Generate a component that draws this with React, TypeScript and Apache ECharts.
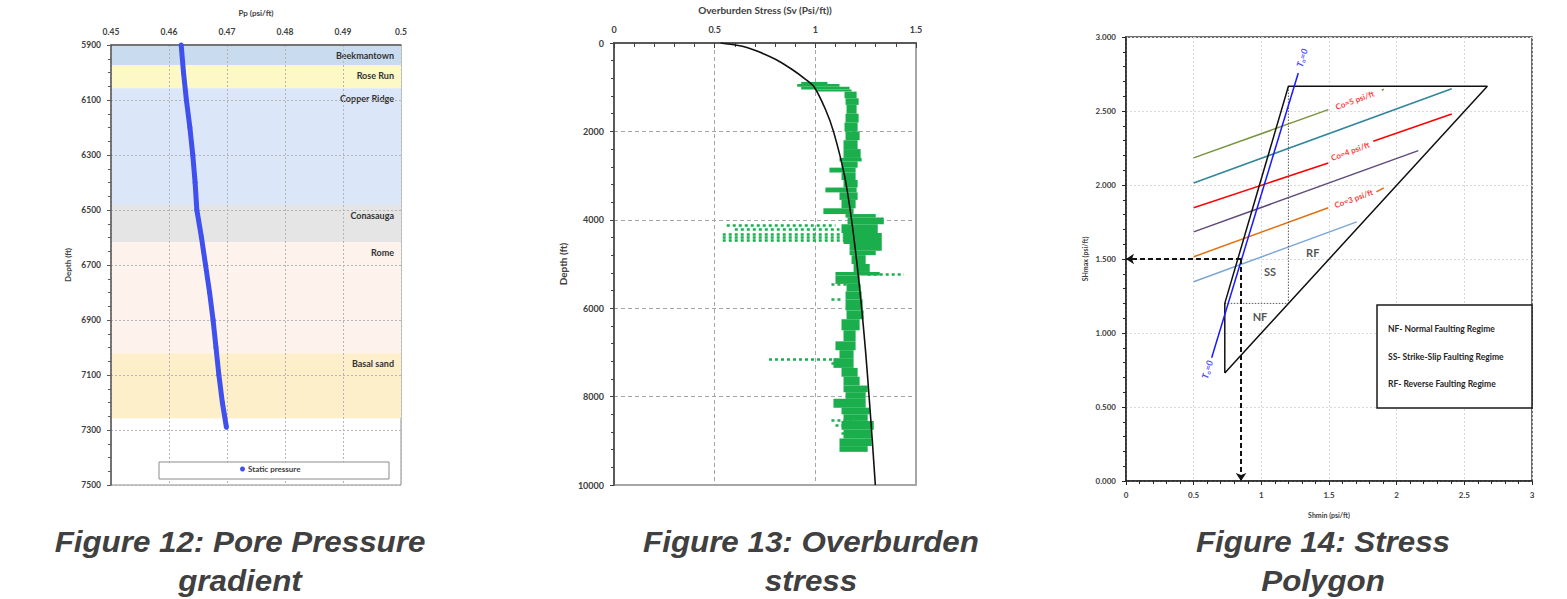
import React, { useEffect, useRef } from "react";
import * as echarts from "echarts";

// ---------- Figure 12: pore pressure gradient ----------
const ppDepth = [5900, 6000, 6100, 6200, 6300, 6400, 6500, 6600, 6700, 6800, 6900, 7000, 7100, 7200, 7290];
const ppGradient = [0.4621, 0.4625, 0.463, 0.4636, 0.4641, 0.4645, 0.4648, 0.4656, 0.4663, 0.467, 0.4676, 0.4681, 0.4686, 0.4692, 0.4699];
const formationNames = ["Beekmantown", "Rose Run", "Copper Ridge", "Conasauga", "Rome", "Basal sand"];
const formationTop = [5900, 5973, 6057, 6482, 6617, 7021];
const formationBase = [5973, 6057, 6482, 6617, 7021, 7257];
const formationColors = ["#c9dcef", "#fdf9c6", "#dbe6f8", "#e5e5e5", "#fdf2ec", "#fdefc9"];

// ---------- Figure 13: overburden stress ----------
const svDepth = [0, 50, 100, 200, 400, 600, 800, 1000, 1500, 2000, 3000, 4000, 5000, 6000, 7000, 8000, 9000, 10000];
const svGradient = [0.53, 0.61, 0.66, 0.72, 0.815, 0.885, 0.945, 0.995, 1.05, 1.09, 1.145, 1.18, 1.207, 1.23, 1.25, 1.267, 1.283, 1.298];
// [top depth, base depth, low Sv, high Sv]
const svLogBands = [
  [880, 930, 0.93, 1.06], [930, 990, 0.91, 1.12], [990, 1050, 0.93, 1.17], [1050, 1100, 1.0, 1.18],
  [1100, 1250, 1.145, 1.205], [1250, 1400, 1.15, 1.215], [1400, 1600, 1.155, 1.205],
  [1600, 1800, 1.15, 1.215], [1800, 2000, 1.145, 1.21], [2000, 2200, 1.15, 1.22],
  [2200, 2400, 1.14, 1.21], [2400, 2600, 1.14, 1.225], [2600, 2680, 1.12, 1.23],
  [2680, 2820, 1.13, 1.21], [2820, 2930, 1.07, 1.2], [2930, 3100, 1.13, 1.2],
  [3100, 3270, 1.14, 1.21], [3270, 3380, 1.05, 1.205], [3380, 3550, 1.12, 1.21],
  [3550, 3740, 1.13, 1.2], [3740, 3870, 1.04, 1.19], [3870, 3950, 1.15, 1.3],
  [3950, 4100, 1.16, 1.34], [4100, 4300, 1.13, 1.31], [4300, 4550, 1.14, 1.33],
  [4550, 4700, 1.17, 1.33], [4700, 4800, 1.17, 1.3], [4800, 5000, 1.18, 1.25],
  [5000, 5180, 1.19, 1.27], [5180, 5260, 1.1, 1.32], [5260, 5450, 1.1, 1.22],
  [5450, 5620, 1.155, 1.225], [5620, 5800, 1.15, 1.23], [5800, 6050, 1.15, 1.235],
  [6050, 6250, 1.155, 1.24], [6250, 6500, 1.13, 1.22], [6500, 6750, 1.14, 1.2],
  [6750, 6950, 1.1, 1.2], [6950, 7130, 1.12, 1.19], [7130, 7350, 1.09, 1.19],
  [7350, 7550, 1.13, 1.21], [7550, 7750, 1.14, 1.22], [7750, 7900, 1.14, 1.26],
  [7900, 8050, 1.15, 1.25], [8050, 8250, 1.09, 1.25], [8250, 8400, 1.13, 1.27],
  [8400, 8550, 1.14, 1.26], [8550, 8750, 1.13, 1.29], [8750, 8950, 1.14, 1.28],
  [8950, 9120, 1.12, 1.28], [9120, 9250, 1.12, 1.26],
];
// [depth, low Sv, high Sv] sparse scattered readings
const svLogScatter = [
  [4130, 0.56, 1.1], [4220, 0.6, 1.12], [4320, 0.54, 1.15], [4400, 0.54, 1.15],
  [4470, 0.54, 1.32], [5226, 1.26, 1.44], [5450, 1.08, 1.16], [5800, 1.08, 1.13],
  [7144, 0.77, 1.1], [7250, 1.08, 1.14], [8535, 1.08, 1.18], [8650, 1.1, 1.16], [8836, 1.13, 1.19],
];

// ---------- Figure 14: stress polygon ----------
const stressPolygon = [[0.73, 0.73], [0.73, 1.2], [1.2, 2.667], [2.67, 2.667], [0.73, 0.73]];
const regimeDivider = [[0.73, 1.2], [1.2, 1.2], [1.2, 2.667]];
const t0Line = [[0.633, 0.833], [1.273, 2.757]];
const coLineSegments = [
  [[[0.5, 2.183], [1.495, 2.509]], [[1.89, 2.64], [1.905, 2.648]]],
  [[[0.5, 2.014], [2.407, 2.65]]],
  [[[0.5, 1.846], [1.495, 2.149]], [[1.827, 2.296], [2.407, 2.48]]],
  [[[0.5, 1.683], [2.16, 2.232]]],
  [[[0.5, 1.515], [1.495, 1.846]], [[1.85, 1.953], [1.905, 1.98]]],
  [[[0.5, 1.346], [1.705, 1.751]]],
];
const coLineColors = ["#77933c", "#31859c", "#ff0000", "#604a7b", "#e46c0a", "#7ba7d7"];
const readArrows = [
  [[0.85, 1.5], [0, 1.5]],
  [[0.85, 1.5], [0.85, 0]],
];
const coLabels = [
  { name: "Co=5 psi/ft", value: [1.69, 2.573] },
  { name: "Co=4 psi/ft", value: [1.657, 2.228] },
  { name: "Co=3 psi/ft", value: [1.682, 1.908] },
];
const t0Labels = [[1.3, 2.86], [0.6, 0.754]];
const regimeLabels = [
  { name: "RF", value: [1.38, 1.546] },
  { name: "SS", value: [1.064, 1.418] },
  { name: "NF", value: [0.99, 1.11] },
];
const regimeLegend = ["NF- Normal Faulting Regime", "SS- Strike-Slip Faulting Regime", "RF- Reverse Faulting Regime"];
const captions = [
  ["Figure 12: Pore Pressure", "gradient"],
  ["Figure 13: Overburden", "stress"],
  ["Figure 14: Stress", "Polygon"],
];

const F = "Lato";
const DARK = "#404040";

function lbl(size: number, extra: any = {}) {
  return { fontFamily: F, fontWeight: "bold", fontSize: size, color: DARK, ...extra };
}

function buildOption(): any {
  const captionX = [240, 811, 1323];
  const graphics: any[] = [];
  captions.forEach((lines, i) => {
    lines.forEach((t, j) => {
      graphics.push({
        type: "text",
        x: captionX[i],
        y: 542 + j * 39,
        scaleX: 1.08,
        style: {
          text: t,
          fill: DARK,
          font: 'italic bold 29px "Liberation Sans", Arial, sans-serif',
          align: "center",
          verticalAlign: "middle",
          textAlign: "center",
          textVerticalAlign: "middle",
        },
      });
    });
  });
  // legend frame for fig 12
  graphics.push({
    type: "rect",
    shape: { x: 159, y: 462, width: 230, height: 17 },
    style: { fill: "#fff", stroke: "#8c8c8c", lineWidth: 1 },
    z: 3,
  });
  // regime legend frame for fig 14
  graphics.push({
    type: "rect",
    shape: { x: 1377, y: 305, width: 155, height: 103 },
    style: { fill: "#fff", stroke: "#1a1a1a", lineWidth: 1.5 },
    z: 3,
  });
  regimeLegend.forEach((t, i) => {
    graphics.push({
      type: "text",
      x: 1388,
      y: 329 + i * 27.5,
      z: 4,
      style: {
        text: t,
        fill: "#262626",
        font: `bold 8.5px ${F}`,
        align: "left",
        verticalAlign: "middle",
        textAlign: "left",
        textVerticalAlign: "middle",
      },
    });
  });

  const formationRows = formationNames.map((_, i) => [formationTop[i], formationBase[i], 0.45, 0.5]);
  const plain = (v: number) => String(v);

  return {
    animation: false,
    backgroundColor: "#ffffff",
    textStyle: { fontFamily: F },
    grid: [
      { left: 111, top: 45, width: 290, height: 440, show: true, borderColor: "#8c8c8c", borderWidth: 1, backgroundColor: "#fff" },
      { left: 614, top: 42, width: 302, height: 443, show: true, borderColor: "#a6a6a6", borderWidth: 2, backgroundColor: "#fff" },
      { left: 1126, top: 37, width: 406, height: 444, show: true, borderColor: "#404040", borderWidth: 1.5, backgroundColor: "#fff" },
    ],
    xAxis: [
      {
        gridIndex: 0, type: "value", position: "top", min: 0.45, max: 0.5, interval: 0.01, z: 1,
        name: "Pp (psi/ft)", nameLocation: "middle", nameGap: 28, nameTextStyle: lbl(8),
        axisLine: { show: true, lineStyle: { color: "#595959", width: 1.5 } },
        axisTick: { show: false },
        axisLabel: lbl(8.5, { margin: 9 }),
        splitLine: { show: true, lineStyle: { color: "#b5b5b5", type: [2, 2] } },
      },
      {
        gridIndex: 1, type: "value", position: "top", min: 0, max: 1.5, interval: 0.5,
        name: "Overburden Stress (Sv (Psi/ft))", nameLocation: "middle", nameGap: 28, nameTextStyle: lbl(10),
        axisLine: { show: true, lineStyle: { color: "#404040", width: 1.5 } },
        axisTick: { show: true, inside: true, length: 5, lineStyle: { color: "#404040" } },
        minorTick: { show: true, splitNumber: 5, length: 4, lineStyle: { color: "#404040" } },
        axisLabel: lbl(9, { margin: 9 }),
        splitLine: { show: true, lineStyle: { color: "#a6a6a6", type: [4, 3] } },
      },
      {
        gridIndex: 2, type: "value", position: "bottom", min: 0, max: 3, interval: 0.5,
        name: "Shmin (psi/ft)", nameLocation: "middle", nameGap: 30, nameTextStyle: lbl(7),
        axisLine: { show: true, lineStyle: { color: "#262626", width: 1.5 } },
        axisTick: { show: true, length: 4, lineStyle: { color: "#262626" } },
        minorTick: { show: true, splitNumber: 5, length: 3, lineStyle: { color: "#262626" } },
        axisLabel: lbl(8, { margin: 10 }),
        splitLine: { show: true, lineStyle: { color: "#d9d9d9", type: [2, 2] } },
      },
    ],
    yAxis: [
      {
        gridIndex: 0, type: "value", inverse: true, min: 5900, max: 7500, interval: 200, z: 1,
        name: "Depth (ft)", nameLocation: "middle", nameGap: 39, nameTextStyle: lbl(8),
        axisLine: { show: true, lineStyle: { color: "#595959", width: 1.5 } },
        axisTick: { show: true, length: 4, lineStyle: { color: "#595959" } },
        minorTick: { show: true, splitNumber: 4, length: 3, lineStyle: { color: "#595959" } },
        axisLabel: lbl(8.5, { margin: 10, formatter: plain }),
        splitLine: { show: true, lineStyle: { color: "#b5b5b5", type: [2, 2] } },
      },
      {
        gridIndex: 1, type: "value", inverse: true, min: 0, max: 10000, interval: 2000,
        name: "Depth (ft)", nameLocation: "middle", nameGap: 46, nameTextStyle: lbl(10),
        axisLine: { show: true, lineStyle: { color: "#404040", width: 1.5 } },
        axisTick: { show: true, length: 4, lineStyle: { color: "#404040" } },
        minorTick: { show: true, splitNumber: 5, length: 3, lineStyle: { color: "#404040" } },
        axisLabel: lbl(9, { margin: 10, formatter: plain }),
        splitLine: { show: true, lineStyle: { color: "#a6a6a6", type: [4, 3] } },
      },
      {
        gridIndex: 2, type: "value", min: 0, max: 3, interval: 0.5,
        name: "SHmax (psi/ft)", nameLocation: "middle", nameGap: 38, nameTextStyle: lbl(7),
        axisLine: { show: true, lineStyle: { color: "#262626", width: 1.5 } },
        axisTick: { show: true, length: 4, lineStyle: { color: "#262626" } },
        minorTick: { show: true, splitNumber: 5, length: 3, lineStyle: { color: "#262626" } },
        axisLabel: lbl(8, { margin: 10, formatter: (v: number) => v.toFixed(3) }),
        splitLine: { show: true, lineStyle: { color: "#d9d9d9", type: [2, 2] } },
      },
    ],
    legend: {
      data: ["Static pressure"],
      left: 240, top: 465, padding: 0, z: 5,
      icon: "circle", itemWidth: 5, itemHeight: 5, itemGap: 4,
      textStyle: lbl(8, { padding: [0, 0, 0, -2] }),
    },
    graphic: { elements: graphics },
    series: [
      // formation bands (fig 12)
      {
        type: "custom", name: "formations", xAxisIndex: 0, yAxisIndex: 0, z: 0.5, silent: true,
        data: formationRows,
        encode: { x: [2, 3], y: [0, 1] },
        renderItem: (params: any, api: any) => {
          const i = params.dataIndex;
          const p1 = api.coord([api.value(2), api.value(0)]);
          const p2 = api.coord([api.value(3), api.value(1)]);
          return {
            type: "group",
            children: [
              {
                type: "rect",
                shape: { x: p1[0], y: p1[1], width: p2[0] - p1[0], height: p2[1] - p1[1] },
                style: { fill: formationColors[i] },
              },
              {
                type: "text",
                style: {
                  text: formationNames[i], x: p2[0] - 7, y: p1[1] + 6,
                  align: "right", verticalAlign: "top", textAlign: "right", textVerticalAlign: "top",
                  fill: "#333", font: `bold 9px ${F}`,
                },
              },
            ],
          };
        },
      },
      {
        type: "line", name: "Static pressure", xAxisIndex: 0, yAxisIndex: 0, z: 3,
        data: ppDepth.map((d, i) => [ppGradient[i], d]),
        color: "#3f50ee",
        lineStyle: { width: 5, color: "#3f50ee" },
        symbol: "circle", symbolSize: 5, showSymbol: true,
      },
      // fig 13
      {
        type: "custom", name: "Sv log", xAxisIndex: 1, yAxisIndex: 1, z: 2, silent: true,
        data: svLogBands,
        encode: { x: [2, 3], y: [0, 1] },
        renderItem: (_p: any, api: any) => {
          const p1 = api.coord([api.value(2), api.value(0)]);
          const p2 = api.coord([api.value(3), api.value(1)]);
          return {
            type: "rect",
            shape: { x: p1[0], y: p1[1], width: p2[0] - p1[0], height: Math.max(p2[1] - p1[1], 1.5) },
            style: { fill: "#1aaf4c" },
          };
        },
      },
      {
        type: "lines", coordinateSystem: "cartesian2d", xAxisIndex: 1, yAxisIndex: 1, z: 2, silent: true,
        data: svLogScatter.map((r) => ({ coords: [[r[1], r[0]], [r[2], r[0]]] })),
        lineStyle: { color: "#1aaf4c", width: 2.5, type: [3, 3], opacity: 1 },
      },
      {
        type: "line", name: "Sv", xAxisIndex: 1, yAxisIndex: 1, z: 4,
        data: svDepth.map((d, i) => [svGradient[i], d]),
        smooth: 0.3, showSymbol: false,
        lineStyle: { color: "#111", width: 1.6 },
      },
      // fig 14
      {
        type: "line", xAxisIndex: 2, yAxisIndex: 2, z: 3, data: regimeDivider, showSymbol: false,
        lineStyle: { color: "#595959", width: 1, type: [1.5, 1.5] },
      },
      {
        type: "lines", coordinateSystem: "cartesian2d", xAxisIndex: 2, yAxisIndex: 2, z: 3, silent: true,
        data: coLineSegments.flatMap((segs, i) =>
          segs.map((s) => ({ coords: s, lineStyle: { color: coLineColors[i] } }))
        ),
        lineStyle: { width: 1.5, opacity: 1 },
      },
      {
        type: "line", xAxisIndex: 2, yAxisIndex: 2, z: 4, data: stressPolygon, showSymbol: false,
        lineStyle: { color: "#111", width: 1.5 },
      },
      {
        type: "line", xAxisIndex: 2, yAxisIndex: 2, z: 5, data: t0Line, showSymbol: false,
        lineStyle: { color: "#1a1aff", width: 1.5 },
      },
      {
        type: "lines", coordinateSystem: "cartesian2d", xAxisIndex: 2, yAxisIndex: 2, z: 6, silent: true,
        data: readArrows.map((c) => ({ coords: c })),
        symbol: ["none", "arrow"], symbolSize: 8,
        lineStyle: { color: "#111", width: 2, type: [5, 3], opacity: 1 },
      },
      {
        type: "scatter", xAxisIndex: 2, yAxisIndex: 2, z: 7, symbolSize: 0, silent: true,
        data: coLabels,
        label: {
          show: true, position: "inside", formatter: "{b}", rotate: 20,
          fontFamily: F, fontWeight: "bold", fontSize: 8, color: "#ff0000",
          backgroundColor: "#fff", padding: [0, 2],
        },
      },
      {
        type: "scatter", xAxisIndex: 2, yAxisIndex: 2, z: 7, symbolSize: 0, silent: true,
        data: t0Labels,
        label: {
          show: true, position: "inside", rotate: 73,
          formatter: () => "{t|T}{s|o}{t|=0}",
          rich: {
            t: { fontFamily: F, fontStyle: "italic", fontWeight: "bold", fontSize: 9, color: "#1a1aff" },
            s: { fontFamily: F, fontWeight: "bold", fontSize: 6, color: "#1a1aff", padding: [4, 0, 0, 0] },
          },
        },
      },
      {
        type: "scatter", xAxisIndex: 2, yAxisIndex: 2, z: 7, symbolSize: 0, silent: true,
        data: regimeLabels,
        label: { show: true, position: "inside", formatter: "{b}", fontFamily: F, fontWeight: "bold", fontSize: 11, color: "#262626" },
      },
    ],
  };
}

export default function App() {
  const ref = useRef<HTMLDivElement>(null);
  useEffect(() => {
    if (!ref.current) return;
    const chart = echarts.init(ref.current, null, { renderer: "svg" });
    chart.setOption(buildOption());
    return () => chart.dispose();
  }, []);
  return (
    <div
      ref={ref}
      style={{ position: "absolute", left: 0, top: 0, width: 1567, height: 599, background: "#fff" }}
    />
  );
}
